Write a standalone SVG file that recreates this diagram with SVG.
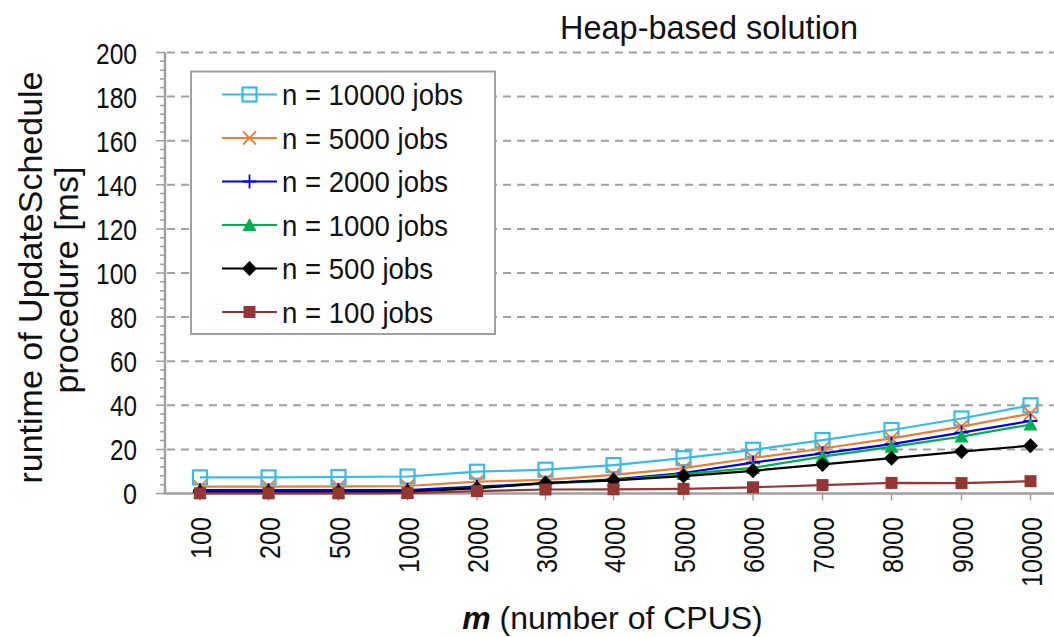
<svg xmlns="http://www.w3.org/2000/svg" width="1054" height="637" viewBox="0 0 1054 637">
<style>
text{font-family:"Liberation Sans",Arial,sans-serif;fill:#111}
.ytl{font-size:30px;text-anchor:end}
.xtl{font-size:30px;text-anchor:end}
.leg{font-size:29px}
.grid{stroke:#a0a0a0;stroke-width:2;stroke-dasharray:8 6;fill:none}
.axis{stroke:#a0a0a0;stroke-width:2.5;fill:none}
.tick{stroke:#a0a0a0;stroke-width:1.5;fill:none}
.s{fill:none;stroke-width:2.2;stroke-linejoin:round}
</style>
<defs>
<marker id="mCyan" markerUnits="userSpaceOnUse" markerWidth="20" markerHeight="20" viewBox="-10 -10 20 20" refX="0" refY="0" overflow="visible"><rect x="-7" y="-7" width="14" height="14" fill="none" stroke="#33bbee" stroke-width="2.2"/></marker>
<marker id="mOrange" markerUnits="userSpaceOnUse" markerWidth="20" markerHeight="20" viewBox="-10 -10 20 20" refX="0" refY="0" overflow="visible"><path d="M-6.5,-6.5L6.5,6.5M-6.5,6.5L6.5,-6.5" stroke="#ee7d30" stroke-width="1.8" fill="none"/></marker>
<marker id="mBlue" markerUnits="userSpaceOnUse" markerWidth="20" markerHeight="20" viewBox="-10 -10 20 20" refX="0" refY="0" overflow="visible"><path d="M0,-7V7M-7,0H7" stroke="#0000ee" stroke-width="1.8" fill="none"/></marker>
<marker id="mGreen" markerUnits="userSpaceOnUse" markerWidth="20" markerHeight="20" viewBox="-10 -10 20 20" refX="0" refY="0" overflow="visible"><path d="M0,-7L7,6H-7Z" fill="#00b050"/></marker>
<marker id="mBlack" markerUnits="userSpaceOnUse" markerWidth="20" markerHeight="20" viewBox="-10 -10 20 20" refX="0" refY="0" overflow="visible"><path d="M0,-7.5L7.5,0L0,7.5L-7.5,0Z" fill="#000"/></marker>
<marker id="mBrown" markerUnits="userSpaceOnUse" markerWidth="20" markerHeight="20" viewBox="-10 -10 20 20" refX="0" refY="0" overflow="visible"><rect x="-6" y="-6" width="12" height="12" fill="#943634"/></marker>
</defs>
<rect width="1054" height="637" fill="#fff"/>

<g id="title"><text x="560" y="39" font-size="34" textLength="298" lengthAdjust="spacingAndGlyphs">Heap-based solution</text></g>

<g id="gridlines">
<path class="grid" d="M167,449.4H1054M167,405.3H1054M167,361.2H1054M167,317.1H1054M167,273H1054M167,228.9H1054M167,184.8H1054M167,140.7H1054M167,96.6H1054M167,52.5H1054"/>
</g>

<g id="axes">
<path class="tick" d="M160,61.32h5M160,70.14h5M160,78.96h5M160,87.78h5M160,105.42h5M160,114.24h5M160,123.06h5M160,131.88h5M160,149.52h5M160,158.34h5M160,167.16h5M160,175.98h5M160,193.62h5M160,202.44h5M160,211.26h5M160,220.08h5M160,237.72h5M160,246.54h5M160,255.36h5M160,264.18h5M160,281.82h5M160,290.64h5M160,299.46h5M160,308.28h5M160,325.92h5M160,334.74h5M160,343.56h5M160,352.38h5M160,370.02h5M160,378.84h5M160,387.66h5M160,396.48h5M160,414.12h5M160,422.94h5M160,431.76h5M160,440.58h5M160,458.22h5M160,467.04h5M160,475.86h5M160,484.68h5"/>
<path class="tick" stroke-width="2" d="M156,52.5h9M156,96.6h9M156,140.7h9M156,184.8h9M156,228.9h9M156,273h9M156,317.1h9M156,361.2h9M156,405.3h9M156,449.4h9M156,493.5h9"/>
<path class="tick" d="M200,493.5v7M268.5,493.5v7M338.5,493.5v7M407.5,493.5v7M477,493.5v7M545.5,493.5v7M613.5,493.5v7M683.5,493.5v7M753,493.5v7M822.5,493.5v7M891.5,493.5v7M961.5,493.5v7M1030.5,493.5v7"/>
<path class="axis" d="M165,52.5V493.5H1054"/>
<g id="ylabels">
<text class="ytl" x="137" y="64" textLength="41" lengthAdjust="spacingAndGlyphs">200</text>
<text class="ytl" x="137" y="108" textLength="41" lengthAdjust="spacingAndGlyphs">180</text>
<text class="ytl" x="137" y="152" textLength="41" lengthAdjust="spacingAndGlyphs">160</text>
<text class="ytl" x="137" y="196" textLength="41" lengthAdjust="spacingAndGlyphs">140</text>
<text class="ytl" x="137" y="240" textLength="41" lengthAdjust="spacingAndGlyphs">120</text>
<text class="ytl" x="137" y="284" textLength="41" lengthAdjust="spacingAndGlyphs">100</text>
<text class="ytl" x="137" y="328" textLength="27" lengthAdjust="spacingAndGlyphs">80</text>
<text class="ytl" x="137" y="372" textLength="27" lengthAdjust="spacingAndGlyphs">60</text>
<text class="ytl" x="137" y="416" textLength="27" lengthAdjust="spacingAndGlyphs">40</text>
<text class="ytl" x="137" y="460" textLength="27" lengthAdjust="spacingAndGlyphs">20</text>
<text class="ytl" x="137" y="504" textLength="14" lengthAdjust="spacingAndGlyphs">0</text>
</g>
<g id="xlabels">
<text class="xtl" transform="translate(211,517) rotate(-90)" textLength="42" lengthAdjust="spacingAndGlyphs">100</text>
<text class="xtl" transform="translate(279.5,517) rotate(-90)" textLength="42" lengthAdjust="spacingAndGlyphs">200</text>
<text class="xtl" transform="translate(349.5,517) rotate(-90)" textLength="42" lengthAdjust="spacingAndGlyphs">500</text>
<text class="xtl" transform="translate(418.5,517) rotate(-90)" textLength="56" lengthAdjust="spacingAndGlyphs">1000</text>
<text class="xtl" transform="translate(488,517) rotate(-90)" textLength="56" lengthAdjust="spacingAndGlyphs">2000</text>
<text class="xtl" transform="translate(556.5,517) rotate(-90)" textLength="56" lengthAdjust="spacingAndGlyphs">3000</text>
<text class="xtl" transform="translate(624.5,517) rotate(-90)" textLength="56" lengthAdjust="spacingAndGlyphs">4000</text>
<text class="xtl" transform="translate(694.5,517) rotate(-90)" textLength="56" lengthAdjust="spacingAndGlyphs">5000</text>
<text class="xtl" transform="translate(764,517) rotate(-90)" textLength="56" lengthAdjust="spacingAndGlyphs">6000</text>
<text class="xtl" transform="translate(833.5,517) rotate(-90)" textLength="56" lengthAdjust="spacingAndGlyphs">7000</text>
<text class="xtl" transform="translate(902.5,517) rotate(-90)" textLength="56" lengthAdjust="spacingAndGlyphs">8000</text>
<text class="xtl" transform="translate(972.5,517) rotate(-90)" textLength="56" lengthAdjust="spacingAndGlyphs">9000</text>
<text class="xtl" transform="translate(1041.5,517) rotate(-90)" textLength="70" lengthAdjust="spacingAndGlyphs">10000</text>
</g>
<g id="axis-titles">
<text transform="translate(42,277.5) rotate(-90)" font-size="34" text-anchor="middle">runtime of UpdateSchedule</text>
<text transform="translate(78,280) rotate(-90)" font-size="34" text-anchor="middle">procedure [ms]</text>
<text x="612.5" y="629" font-size="32" text-anchor="middle"><tspan font-weight="bold" font-style="italic">m</tspan> (number of CPUS)</text>
</g>
</g>

<g id="series">
<polyline id="s10000" class="s" stroke="#33bbee" marker-start="url(#mCyan)" marker-mid="url(#mCyan)" marker-end="url(#mCyan)" points="200,477.4 268.5,477.4 338.5,477 407.5,476.5 477,471.7 545.5,469.7 613.5,465.1 683.5,458.2 753,449.8 822.5,440.1 891.5,430 961.5,418.5 1030.5,405.3"/>
<polyline id="s5000" class="s" stroke="#ee7d30" marker-start="url(#mOrange)" marker-mid="url(#mOrange)" marker-end="url(#mOrange)" points="200,486.7 268.5,486.7 338.5,486.4 407.5,486 477,481.6 545.5,479.8 613.5,474.8 683.5,468.1 753,458 822.5,448.5 891.5,438.4 961.5,426.7 1030.5,413.5"/>
<polyline id="s2000" class="s" stroke="#0000ee" marker-start="url(#mBlue)" marker-mid="url(#mBlue)" marker-end="url(#mBlue)" points="200,490.2 268.5,490.2 338.5,490.2 407.5,490 477,486.7 545.5,483.4 613.5,479.4 683.5,473 753,462.6 822.5,453.4 891.5,444.1 961.5,432.6 1030.5,421"/>
<polyline id="s1000" class="s" stroke="#00b050" marker-start="url(#mGreen)" marker-mid="url(#mGreen)" marker-end="url(#mGreen)" points="200,492.2 268.5,492.2 338.5,492.2 407.5,492 477,488 545.5,483.6 613.5,480.3 683.5,474.1 753,467.9 822.5,456.7 891.5,446.8 961.5,436.6 1030.5,424.5"/>
<polyline id="s500" class="s" stroke="#000" marker-start="url(#mBlack)" marker-mid="url(#mBlack)" marker-end="url(#mBlack)" points="200,492 268.5,492 338.5,492 407.5,491.7 477,488.2 545.5,482.9 613.5,480.3 683.5,476.1 753,470.8 822.5,464.4 891.5,458.2 961.5,451.6 1030.5,445.7"/>
<polyline id="s100" class="s" stroke="#943634" marker-start="url(#mBrown)" marker-mid="url(#mBrown)" marker-end="url(#mBrown)" points="200,493.3 268.5,493.3 338.5,493.3 407.5,493.1 477,491.1 545.5,489.5 613.5,489.3 683.5,488.9 753,487.3 822.5,485.1 891.5,482.9 961.5,483.1 1030.5,481.2"/>
</g>

<g id="legend">
<rect x="191" y="71.5" width="304" height="262.5" fill="#fff" stroke="#a0a0a0" stroke-width="2"/>
<g id="leg10000"><polyline class="s" stroke="#33bbee" marker-mid="url(#mCyan)" points="222,94.5 249.5,94.5 277,94.5"/><text class="leg" x="282" y="105" textLength="181" lengthAdjust="spacingAndGlyphs">n = 10000 jobs</text></g>
<g id="leg5000"><polyline class="s" stroke="#ee7d30" marker-mid="url(#mOrange)" points="222,138 249.5,138 277,138"/><text class="leg" x="282" y="148.5" textLength="166" lengthAdjust="spacingAndGlyphs">n = 5000 jobs</text></g>
<g id="leg2000"><polyline class="s" stroke="#0000ee" marker-mid="url(#mBlue)" points="222,181.5 249.5,181.5 277,181.5"/><text class="leg" x="282" y="192" textLength="166" lengthAdjust="spacingAndGlyphs">n = 2000 jobs</text></g>
<g id="leg1000"><polyline class="s" stroke="#00b050" marker-mid="url(#mGreen)" points="222,225 249.5,225 277,225"/><text class="leg" x="282" y="235.5" textLength="166" lengthAdjust="spacingAndGlyphs">n = 1000 jobs</text></g>
<g id="leg500"><polyline class="s" stroke="#000" marker-mid="url(#mBlack)" points="222,268.5 249.5,268.5 277,268.5"/><text class="leg" x="282" y="279" textLength="151" lengthAdjust="spacingAndGlyphs">n = 500 jobs</text></g>
<g id="leg100"><polyline class="s" stroke="#943634" marker-mid="url(#mBrown)" points="222,312 249.5,312 277,312"/><text class="leg" x="282" y="322.5" textLength="151" lengthAdjust="spacingAndGlyphs">n = 100 jobs</text></g>
</g>
</svg>
